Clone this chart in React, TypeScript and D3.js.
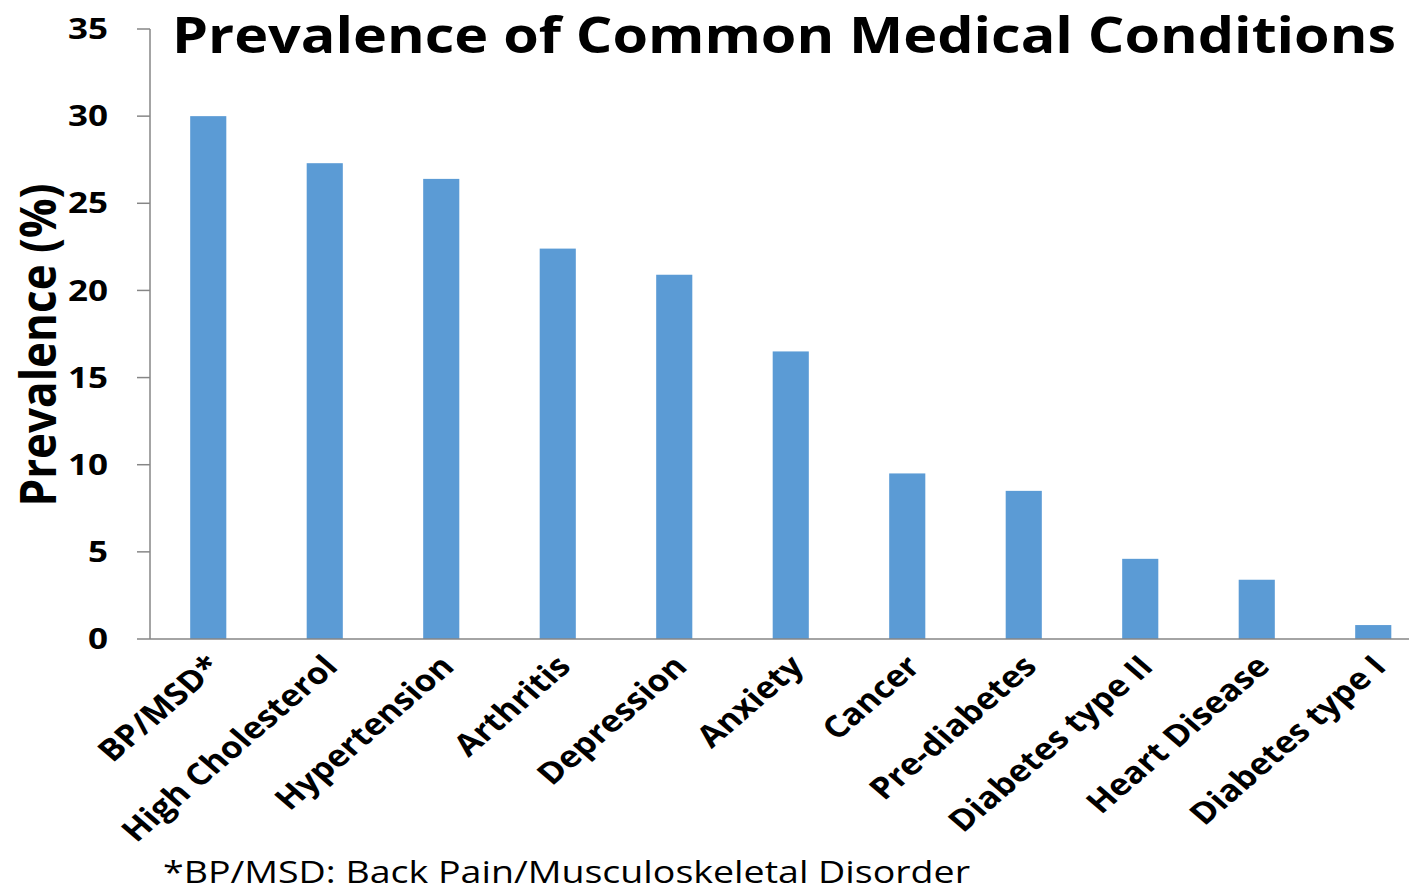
import React from "react";
import * as d3 from "d3";

// Prevalence of common medical conditions (%)
const categories: string[] = [
  "BP/MSD*",
  "High Cholesterol",
  "Hypertension",
  "Arthritis",
  "Depression",
  "Anxiety",
  "Cancer",
  "Pre-diabetes",
  "Diabetes type II",
  "Heart Disease",
  "Diabetes type I",
];
const prevalence: number[] = [30.0, 27.3, 26.4, 22.4, 20.9, 16.5, 9.5, 8.5, 4.6, 3.4, 0.8];
const yTicks: number[] = [0, 5, 10, 15, 20, 25, 30, 35];

const titleText = "Prevalence of Common Medical Conditions";
const yAxisTitle = "Prevalence (%)";
const footnote = "*BP/MSD: Back Pain/Musculoskeletal Disorder";

const W = 1409;
const H = 891;
const axisX = 150;
const baseY = 639;
const topY = 29;
const step = 116.5;
const tickStretch = 1.25;
const labelStretch = 1.16;
const titleStretch = 1.12;
const barColor = "#5B9BD5";
const axisColor = "#868686";
const font = "'Open Sans', 'DejaVu Sans', sans-serif";

export default function App() {
  const x = d3
    .scaleBand<string>()
    .domain(categories)
    .range([axisX, axisX + step * categories.length])
    .paddingInner(0.69)
    .paddingOuter(0.345);
  const y = d3.scaleLinear().domain([0, 35]).range([baseY, topY]);

  return (
    <svg
      width={W}
      height={H}
      viewBox={`0 0 ${W} ${H}`}
      style={{ position: "absolute", left: 0, top: 0, display: "block", background: "#fff" }}
      fontFamily={font}
    >
      <rect x={0} y={0} width={W} height={H} fill="#fff" />

      {/* title */}
      <text
        x={172}
        y={53}
        fontSize={50}
        fontWeight={700}
        fill="#000"
        textLength={1224}
        lengthAdjust="spacingAndGlyphs"
      >
        {titleText}
      </text>

      {/* bars */}
      {categories.map((c, i) => (
        <rect
          key={c}
          x={x(c)}
          y={y(prevalence[i])}
          width={x.bandwidth()}
          height={baseY - y(prevalence[i])}
          fill={barColor}
        />
      ))}

      {/* y axis */}
      <line x1={axisX} x2={axisX} y1={y(35)} y2={baseY} stroke={axisColor} strokeWidth={1.5} />
      {yTicks.map((t) => (
        <g key={t}>
          <line x1={axisX - 13} x2={axisX} y1={y(t)} y2={y(t)} stroke={axisColor} strokeWidth={1.5} />
          <g transform={`translate(108, ${y(t)}) scale(${tickStretch}, 1)`}>
            <text x={0} y={0} dy="0.36em" textAnchor="end" fontSize={28} fontWeight={700} fill="#000">
              {t}
            </text>
          </g>
        </g>
      ))}

      {/* x axis */}
      <line x1={axisX} x2={W} y1={baseY} y2={baseY} stroke={axisColor} strokeWidth={1.5} />
      {categories.map((c) => {
        const cx = (x(c) as number) + x.bandwidth() / 2;
        return (
          <g key={c} transform={`translate(${cx - 3}, ${baseY + 14}) scale(${labelStretch}, 1) rotate(-45)`}>
            <text x={0} y={0} dy="0.72em" textAnchor="end" fontSize={30} fontWeight={700} fill="#000">
              {c}
            </text>
          </g>
        );
      })}

      {/* y axis title */}
      <g transform={`translate(38, 345) scale(${titleStretch}, 1) rotate(-90)`}>
        <text x={0} y={0} dy="0.36em" textAnchor="middle" fontSize={44} fontWeight={700} fill="#000">
          {yAxisTitle}
        </text>
      </g>

      {/* footnote */}
      <text
        x={163}
        y={883}
        fontSize={31}
        fill="#000"
        textLength={807}
        lengthAdjust="spacingAndGlyphs"
      >
        {footnote}
      </text>
    </svg>
  );
}
